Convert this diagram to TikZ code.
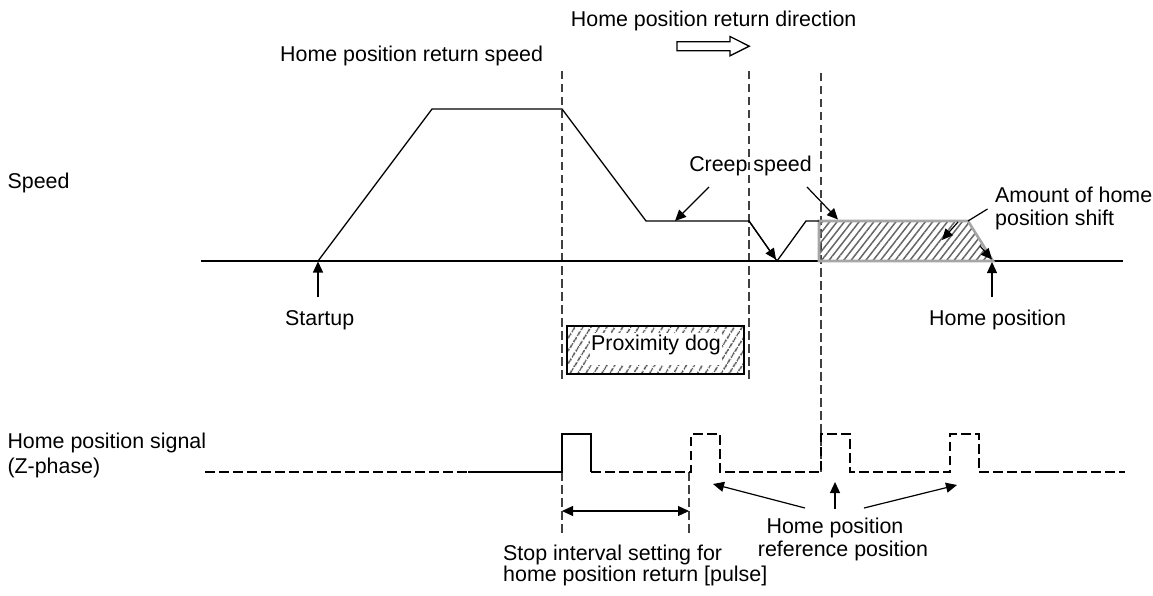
\documentclass[tikz,border=0pt]{standalone}
\usepackage{fontspec}
\setmainfont{Liberation Sans}
\usetikzlibrary{arrows.meta,patterns.meta}
\begin{document}
\begin{tikzpicture}[x=1pt,y=-1pt,
  lbl/.style={font=\fontsize{21.4}{25}\selectfont, inner sep=0pt},
  ln/.style={line width=1.3pt, line join=miter},
  vdash/.style={line width=1.3pt, black!75, dash pattern=on 8.5pt off 4.5pt},
  sig/.style={line width=1.8pt, line join=miter},
  sigdash/.style={sig, dash pattern=on 9.5pt off 4.5pt},
  arr/.style={line width=1.2pt, -{Triangle[length=11pt,width=10pt]}},
  darr/.style={line width=1.2pt, {Triangle[length=11pt,width=10pt]}-{Triangle[length=11pt,width=10pt]}},
  hatchA/.style={pattern={Lines[angle=52,distance=5.8pt,line width=1.5pt]}, pattern color=black!60},
  hatchB/.style={pattern={Lines[angle=58,distance=6.5pt,line width=1.7pt]}, pattern color=black!70}
]
\useasboundingbox (0,0) rectangle (1153,596);

% ---------- labels ----------
\node[lbl,anchor=base west] (dir)   at (570.7,26.7) {Home position return direction};
\node[lbl,anchor=base west] (hprs)  at (280,61.7)   {Home position return speed};
\node[lbl,anchor=base west] (speed) at (7.4,189)    {Speed};
\node[lbl,anchor=base east] (creep) at (812,172)    {Creep speed};
\node[lbl,anchor=base west] (amt1)  at (995,202.7)  {Amount of home};
\node[lbl,anchor=base west] (amt2)  at (995,225)    {position shift};
\node[lbl,anchor=base west] (start) at (285,325)    {Startup};
\node[lbl,anchor=base west] (home)  at (929,325)    {Home position};
\node[lbl,anchor=base west] (sig1)  at (7.3,448)    {Home position signal};
\node[lbl,anchor=base west] (sig2)  at (7.3,473)    {(Z-phase)};
\node[lbl,anchor=base west] (stop1) at (503,560)    {Stop interval setting for};
\node[lbl,anchor=base west] (stop2) at (503,581.5)  {home position return [pulse]};
\node[lbl,anchor=base] (ref1) at (835,533.3) {Home position};
\node[lbl,anchor=base] (ref2) at (843,556)   {reference position};

% ---------- direction arrow (hollow) ----------
\draw[ln,fill=white] (677,41.7) -- (730,41.7) -- (730,36.5) -- (749.3,46.2)
  -- (730,55.8) -- (730,50.7) -- (677,50.7) -- cycle;

% ---------- dashed verticals ----------
\draw[vdash] (562,71) -- (562,380);
\draw[vdash] (749,71) -- (749,380);
\draw[vdash] (821,73) -- (821,472);
\draw[vdash] (562,472) -- (562,533);
\draw[vdash] (689,472) -- (689,533);

% ---------- speed axis ----------
\draw[ln] (201,261) -- (1123,261);

% hatched home position shift area
\path[hatchA] (819,221) -- (968,221) -- (993,261) -- (819,261) -- cycle;
\draw[line width=2.6pt, gray!70, line join=miter] (819,221) -- (968,221) -- (993,261) -- (819,261) -- cycle;

% speed curve
\draw[ln] (318,261) -- (432,109) -- (562,109) -- (646,221) -- (749,221) -- (777,261) -- (806,221) -- (819,221);

% ---------- proximity dog ----------
\path[hatchB] (567,326) rectangle (744,374);
\fill[white] (590,333) rectangle (722,365);
\draw[ln] (567,326) rectangle (744,374);
\node[lbl,anchor=base] (dog) at (656,350) {Proximity dog};

% ---------- signal ----------
\draw[sigdash] (205,472) -- (535,472);
\draw[sig] (468,472) -- (562,472) -- (562,434) -- (591,434) -- (591,472);
\draw[sigdash] (591,472) -- (691,472) -- (691,434) -- (720,434) -- (720,472) -- (821,472)
  -- (821,434) -- (850,434) -- (850,472) -- (950,472) -- (950,434) -- (979,434) -- (979,472) -- (1125,472);
\draw[sig] (1038,472) -- (1056,472);

% ---------- arrow end points ----------
\coordinate (suA) at (318,297);  \coordinate (suB) at (318,261.5);
\coordinate (hpA) at (992,297);  \coordinate (hpB) at (992,262);
\coordinate (c1A) at (709,187);  \coordinate (c1B) at (675,221);
\coordinate (c2A) at (807,187);  \coordinate (c2B) at (838,219.5);
\coordinate (dsA) at (749,221);  \coordinate (dsB) at (776,259.5);
\coordinate (amA) at (958,222);  \coordinate (amB) at (942,240);
\coordinate (amC) at (980,246);  \coordinate (amD) at (992,259.5);
\coordinate (ldA) at (968,221);  \coordinate (ldB) at (987.5,209);
\coordinate (stA) at (562,511);  \coordinate (stB) at (689,511);
\coordinate (r1A) at (805,508);  \coordinate (r1B) at (713,484);
\coordinate (r2A) at (835,509);  \coordinate (r2B) at (835,482);
\coordinate (r3A) at (864,508);  \coordinate (r3B) at (957,485);

\draw[arr] (suA) -- (suB);
\draw[arr] (hpA) -- (hpB);
\draw[arr] (c1A) -- (c1B);
\draw[arr] (c2A) -- (c2B);
\draw[arr] (dsA) -- (dsB);
\draw[arr] (amA) -- (amB);
\draw[arr] (amC) -- (amD);
\draw[line width=1.2pt] (ldA) -- (ldB);
\draw[darr] (stA) -- (stB);
\draw[arr] (r1A) -- (r1B);
\draw[arr] (r2A) -- (r2B);
\draw[arr] (r3A) -- (r3B);
\end{tikzpicture}
\end{document}
